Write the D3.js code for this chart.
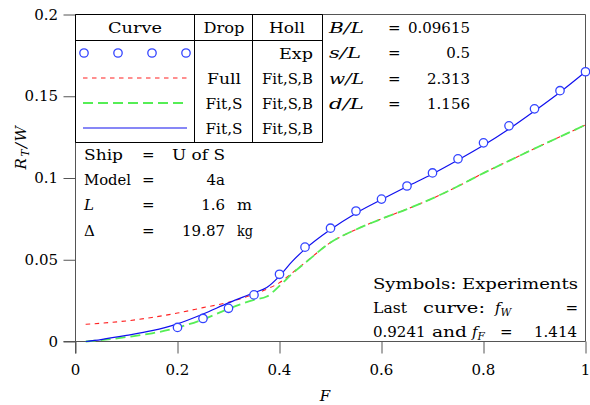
<!DOCTYPE html>
<html><head><meta charset="utf-8">
<script src="https://cdn.jsdelivr.net/npm/d3@7"></script>
<style>
body{margin:0;background:#fff;}
svg text{font-family:"DejaVu Serif",serif;fill:#000;}
</style></head>
<body><svg id="c" width="590" height="405"></svg>
<script>
// ---- data ----
const curveF   = [0.02,0.05,0.1,0.15,0.2,0.25,0.3,0.35,0.375,0.4,0.425,0.45,0.5,0.55,0.6,0.65,0.7,0.75,0.8,0.85,0.9,0.95,1.0];
const blueFit  = [0.0,0.0012,0.0037,0.0066,0.0108,0.0168,0.0236,0.0298,0.0330,0.0400,0.0490,0.0565,0.0685,0.0785,0.0868,0.0948,0.1025,0.1110,0.1200,0.1300,0.1410,0.1525,0.1650];
const redFull  = [0.0105,0.0112,0.0126,0.0147,0.0174,0.0207,0.0240,0.0290,0.0320,0.0360,0.0420,0.0482,0.0605,0.0685,0.0750,0.0810,0.0875,0.0950,0.1030,0.1105,0.1180,0.1252,0.1325];
const greenFitS= [0.0,0.0008,0.0027,0.0050,0.0085,0.0135,0.0200,0.0255,0.0275,0.0340,0.0415,0.0480,0.0605,0.0685,0.0750,0.0810,0.0875,0.0950,0.1030,0.1105,0.1180,0.1252,0.1325];
const expF = [0.2,0.25,0.3,0.35,0.4,0.45,0.5,0.55,0.6,0.65,0.7,0.75,0.8,0.85,0.9,0.95,1.0];
const expR = [0.0086,0.0141,0.0203,0.0285,0.0411,0.0577,0.0693,0.0798,0.0871,0.0951,0.1031,0.1117,0.1215,0.1319,0.1423,0.1534,0.1650];
const xTicks = [0,0.2,0.4,0.6,0.8,1];
const xTickLabels = ["0","0.2","0.4","0.6","0.8","1"];
const yTicks = [0,0.05,0.1,0.15,0.2];
const yTickLabels = ["0","0.05","0.1","0.15","0.2"];
const legendDrop = ["","Full","Fit,S","Fit,S"];
const legendHoll = ["Exp","Fit,S,B","Fit,S,B","Fit,S,B"];
const paramNames = ["B/L","s/L","w/L","d/L"];
const paramValues = ["0.09615","0.5","2.313","1.156"];
const shipNames = ["Ship","Model","L","Δ"];
const shipValues = ["U of S","4a","1.6","19.87"];
const shipUnits = ["","","m","kg"];

// ---- layout ----
const svg = d3.select("#c");
const L=75.5, R=585.5, T=14.5, B=341.5;
const x = d3.scaleLinear().domain([0,1]).range([L,R]);
const y = d3.scaleLinear().domain([0,0.2]).range([B,T]);
const FS = 15;
const axisCol = "#555";
// display widths (px) for words set in the wide reference face
const W = {"Curve":54,"Drop":41,"Holl":36,"Exp":34,"Full":34,"Fit,S":37,"Fit,S,B":51,
  "B/L":35,"s/L":32,"w/L":35,"d/L":35,"Ship":39,"Model":47,"U of S":53,"m":15,"kg":16,
  "Symbols: Experiments":205,"Last":34,"curve:":62,"and":35};

function txt(px,py,str,anchor,italic){
  const t = svg.append("text").attr("x",px).attr("y",py)
    .attr("font-size",FS).attr("text-anchor",anchor||"start");
  if(italic) t.attr("font-style","italic");
  if(str!=null){
    t.text(str);
    if(W[str]) t.attr("textLength",W[str]).attr("lengthAdjust","spacingAndGlyphs");
  }
  return t;
}

// frame top/right
svg.append("line").attr("x1",L).attr("x2",R).attr("y1",T).attr("y2",T).attr("stroke",axisCol);
svg.append("line").attr("x1",R).attr("x2",R).attr("y1",T).attr("y2",B).attr("stroke",axisCol);

// axes
const xa = svg.append("g").attr("transform",`translate(0,${B})`)
  .call(d3.axisBottom(x).tickValues(xTicks).tickSize(12).tickFormat(()=>""));
const ya = svg.append("g").attr("transform",`translate(${L},0)`)
  .call(d3.axisLeft(y).tickValues(yTicks).tickSize(12).tickFormat(()=>""));
[xa,ya].forEach(g=>{
  g.select(".domain").attr("stroke",axisCol);
  g.selectAll(".tick line").attr("stroke",axisCol);
  g.selectAll(".tick text").remove();
});
xa.select(".domain").attr("d",`M${L-12},0H${R}`);
ya.select(".domain").attr("d",`M0,${T}V${B+12}`);
xTicks.forEach((v,i)=>txt(x(v),375,xTickLabels[i],"middle"));
yTicks.forEach((v,i)=>txt(58,y(v)+5,yTickLabels[i],"end"));

// curves
const line = vals => d3.line().x((d,i)=>x(curveF[i])).y(d=>y(d)).curve(d3.curveMonotoneX)(vals);
svg.append("path").attr("d",line(redFull)).attr("fill","none").attr("stroke","#ff2020").attr("stroke-width",1.1).attr("stroke-dasharray","4.5,4.5");
svg.append("path").attr("d",line(greenFitS)).attr("fill","none").attr("stroke","#55ee55").attr("stroke-width",1.8).attr("stroke-dasharray","10,5");
svg.append("path").attr("d",line(blueFit)).attr("fill","none").attr("stroke","#1010ee").attr("stroke-width",1.2);
svg.append("g").selectAll("circle").data(expF).join("circle")
  .attr("cx",d=>x(d)).attr("cy",(d,i)=>y(expR[i])).attr("r",4.2)
  .attr("fill","#fff").attr("stroke","#3344ff").attr("stroke-width",1.3);

// legend table
const tb = svg.append("g").attr("stroke","#000").attr("stroke-width",1);
const tL=75.5, tR=322.5, tT=14.5, tH=40.5, tB=142.5, c1=194.5, c2=252.5;
tb.append("line").attr("x1",tL).attr("x2",tR).attr("y1",tT).attr("y2",tT);
tb.append("line").attr("x1",tL).attr("x2",tR).attr("y1",tH).attr("y2",tH);
tb.append("line").attr("x1",tL).attr("x2",tR).attr("y1",tB).attr("y2",tB);
[tL,c1,c2,tR].forEach(cx=>tb.append("line").attr("x1",cx).attr("x2",cx).attr("y1",tT).attr("y2",tB));
txt(135,33,"Curve","middle");
txt(224,33,"Drop","middle");
txt(287,33,"Holl","middle");
const rowY = [53,78,103,128];
legendDrop.forEach((d,i)=>{
  if(d) txt(224,rowY[i]+6,d,"middle");
  txt(313,rowY[i]+6,legendHoll[i],"end");
});
[84,118,152,186].forEach(cx=>svg.append("circle").attr("cx",cx).attr("cy",rowY[0]).attr("r",4.2)
  .attr("fill","#fff").attr("stroke","#3344ff").attr("stroke-width",1.3));
svg.append("line").attr("x1",83).attr("x2",187).attr("y1",rowY[1]).attr("y2",rowY[1]).attr("stroke","#ff2020").attr("stroke-width",1.1).attr("stroke-dasharray","4.5,4.5");
svg.append("line").attr("x1",83).attr("x2",187).attr("y1",rowY[2]).attr("y2",rowY[2]).attr("stroke","#55ee55").attr("stroke-width",1.8).attr("stroke-dasharray","10,5");
svg.append("line").attr("x1",83).attr("x2",187).attr("y1",rowY[3]).attr("y2",rowY[3]).attr("stroke","#1010ee").attr("stroke-width",1.2);

// parameter box
const pY=[33,58,84,109];
paramNames.forEach((n,i)=>{
  txt(329,pY[i],n,"start",true);
  txt(388,pY[i],"=","start");
  txt(470,pY[i],paramValues[i],"end");
});

// ship box
const sY=[160,185,210,236];
shipNames.forEach((n,i)=>{
  txt(84,sY[i],n,"start",n==="L");
  txt(142,sY[i],"=","start");
  txt(225,sY[i],shipValues[i],"end");
  if(shipUnits[i]) txt(237,sY[i],shipUnits[i],"start");
});

// notes bottom right
txt(373,289,"Symbols: Experiments","start");
txt(373,313,"Last","start");
txt(423,313,"curve:","start");
const fw = txt(495,313,null,"start",true);
fw.append("tspan").text("f");
fw.append("tspan").attr("font-size",10.5).attr("dy",3).text("W");
txt(578,313,"=","end");
txt(373,337,"0.9241","start");
txt(432,337,"and","start");
const ff = txt(472,337,null,"start",true);
ff.append("tspan").text("f");
ff.append("tspan").attr("font-size",10.5).attr("dy",3).text("F");
txt(500,337,"=","start");
txt(577,337,"1.414","end");

// axis titles
txt(325,401,"F","middle",true);
const yt = svg.append("text").attr("transform","translate(26,147) rotate(-90)")
  .attr("font-size",FS).attr("text-anchor","middle").attr("font-style","italic")
  .attr("letter-spacing",1.5);
yt.append("tspan").text("R");
yt.append("tspan").attr("font-size",10.5).attr("dy",3).text("T");
yt.append("tspan").attr("dy",-3).text("/W");
</script></body></html>
